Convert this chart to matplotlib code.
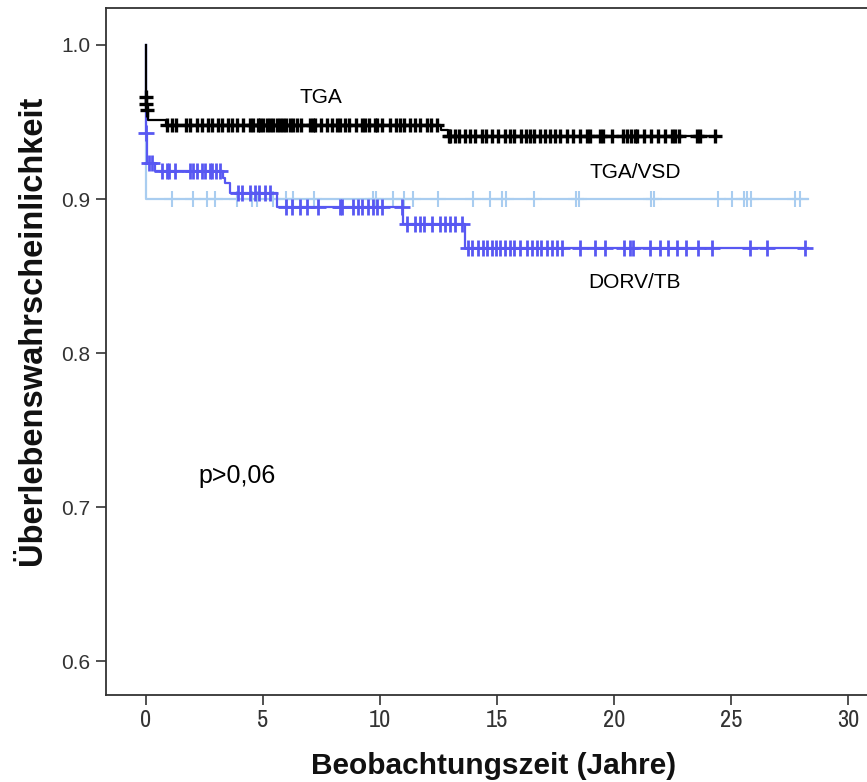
import numpy as np
import matplotlib
matplotlib.use("Agg")
import matplotlib.pyplot as plt
from matplotlib import font_manager

# Kaplan-Meier steps (time in years, survival after the step)
tga_times = [0.0, 0.02, 0.04, 0.10, 0.85, 12.6, 12.9]
tga_surv = [0.966, 0.962, 0.958, 0.951, 0.948, 0.9445, 0.941]
tga_end = 24.4
tga_cens = [0.0, 0.02, 0.04,
            0.9, 1.1, 1.3, 1.7, 1.9, 2.2, 2.4, 2.65, 2.85, 3.1, 3.25, 3.5, 3.7, 3.9,
            4.15, 4.45, 4.6, 4.8, 4.9, 5.0, 5.2, 5.3, 5.45, 5.6, 5.75, 5.85, 6.0,
            6.15, 6.3, 6.45, 6.65, 7.0, 7.15, 7.25, 7.5, 7.75, 7.95, 8.15, 8.3, 8.5,
            8.7, 9.0, 9.25, 9.35, 9.55, 9.8, 9.9, 10.1, 10.45, 10.7, 10.85, 11.05,
            11.3, 11.5, 11.7, 12.0, 12.2, 12.45,
            12.95, 13.0, 13.2, 13.4, 13.65, 13.85, 14.05, 14.35, 14.55, 14.8, 15.05,
            15.35, 15.55, 15.75, 16.05, 16.25, 16.4, 16.6, 16.85, 17.05, 17.25, 17.5,
            17.7, 18.0, 18.25, 18.55, 18.85, 19.0, 19.4, 19.55, 19.9, 20.4, 20.55,
            20.75, 20.9, 21.0, 21.3, 21.6, 21.9, 22.2, 22.5, 22.6, 22.8, 23.55, 23.7,
            24.3]

vsd_times = [0.0]
vsd_surv = [0.900]
vsd_end = 28.3
vsd_cens = [1.1, 2.0, 2.6, 2.95, 3.9, 4.55, 4.75, 5.45, 6.0, 6.3, 7.2, 9.7, 9.85,
            10.55, 11.05, 11.4, 12.5, 14.0, 14.7, 15.2, 15.4, 16.6, 18.4, 18.5,
            21.6, 21.7, 24.45, 25.05, 25.55, 25.7, 25.85, 27.75, 27.95]

dorv_times = [0.0, 0.05, 0.4, 3.3, 3.4, 3.6, 5.6, 11.0, 13.65]
dorv_surv = [0.943, 0.9236, 0.918, 0.9136, 0.9104, 0.904, 0.895, 0.884, 0.868]
dorv_end = 28.3
dorv_cens = [0.0, 0.15, 0.25, 0.7, 0.9, 1.0, 1.25, 1.9, 2.0, 2.2, 2.4, 2.55, 2.75,
             2.85, 3.0, 3.15, 3.95, 4.1, 4.45, 4.65, 4.85, 5.1, 5.3,
             6.0, 6.25, 6.6, 6.9, 7.35, 8.3, 8.4, 8.85, 9.05, 9.25, 9.5, 9.7, 9.9,
             10.1, 10.95, 11.15, 11.5, 11.7, 11.9, 12.25, 12.55, 12.8, 13.0, 13.2,
             13.5, 13.75, 13.95, 14.2, 14.4, 14.6, 14.8, 14.95, 15.15, 15.35, 15.55,
             15.75, 16.0, 16.3, 16.5, 16.7, 16.9, 17.15, 17.35, 17.55, 17.8, 18.55,
             19.2, 19.6, 20.45, 20.7, 20.8, 21.55, 21.95, 22.3, 22.7, 23.1, 23.6,
             24.2, 25.8, 26.55, 28.15]

labels = ["TGA", "TGA/VSD", "DORV/TB"]
x_ticks = [0, 5, 10, 15, 20, 25, 30]
y_ticks = [0.6, 0.7, 0.8, 0.9, 1.0]

c_tga = "#000000"
c_vsd = "#a9cdf0"
c_dorv = "#5858f2"

# narrow face for the x tick labels, if there is one
cond = [f.name for f in font_manager.fontManager.ttflist
        if "Narrow" in f.name or "Condensed" in f.name]
narrow = sorted(set(cond))[:1] + ["DejaVu Sans"]
plt.rcParams["font.family"] = ["Liberation Sans", "DejaVu Sans"]


def step_xy(times, surv, end):
    xs = [0.0] + list(times) + [end]
    ys = [1.0] + list(surv) + [surv[-1]]
    return np.array(xs), np.array(ys)


def surv_at(times, surv, t):
    idx = np.searchsorted(times, t, side="right") - 1
    return np.array(surv)[idx]


fig = plt.figure(figsize=(8.67, 7.82), dpi=100)
ax = fig.add_axes([106 / 867, 1 - 695 / 782, 770 / 867, 687 / 782])

curves = [
    (tga_times, tga_surv, tga_end, tga_cens, c_tga, 10.5, 2.4, 3),
    (vsd_times, vsd_surv, vsd_end, vsd_cens, c_vsd, 11, 1.5, 2),
    (dorv_times, dorv_surv, dorv_end, dorv_cens, c_dorv, 11, 2.0, 2.5),
]
for times, surv, end, cens, col, ms, mew, z in curves:
    xs, ys = step_xy(times, surv, end)
    ax.step(xs, ys, where="post", color=col, lw=1.6, zorder=z)
    cy = surv_at(times, surv, cens)
    ax.plot(cens, cy, ls="none", marker="+", ms=ms, mew=mew, color=col, zorder=z)

ax.text(7.5, 0.966, "TGA", fontsize=15, ha="center", va="center")
ax.text(20.9, 0.917, "TGA/VSD", fontsize=15, ha="center", va="center")
ax.text(20.9, 0.846, "DORV/TB", fontsize=15, ha="center", va="center")
ax.text(3.9, 0.72, "p>0,06", fontsize=18, ha="center", va="center")

ax.set_xlim(-1.7, 31.2)
ax.set_ylim(0.578, 1.024)
ax.set_xticks(x_ticks)
ax.set_yticks(y_ticks)
ax.set_yticklabels([f"{v:.1f}" for v in y_ticks], fontsize=15, color="#333333")
ax.set_xticklabels([str(v) for v in x_ticks], family=narrow, stretch="condensed",
                   fontsize=17.5, color="#333333")
ax.tick_params(direction="out", length=7, width=1.2, color="#333333", pad=4)
for s in ax.spines.values():
    s.set_color("#333333")
    s.set_linewidth(1.3)

fig.text(494 / 867, 1 - 766 / 782, "Beobachtungszeit (Jahre)", fontweight="bold",
         fontsize=21.5, ha="center", va="center", color="#111111")
fig.text(33 / 867, 1 - 330 / 782, "Überlebenswahrscheinlichkeit", fontweight="bold",
         fontsize=23.5, ha="center", va="center", rotation=90, color="#111111")

fig.savefig("out.png", dpi=100)
